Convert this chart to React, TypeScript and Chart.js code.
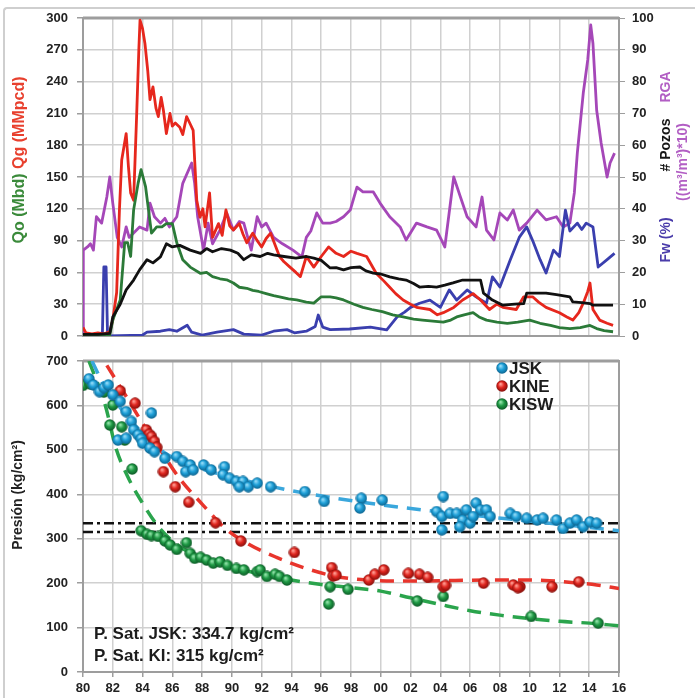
import React, { useEffect, useRef } from 'react';
import { Chart, registerables } from 'chart.js';

Chart.register(...registerables);

type Pt = [number, number];

const FONT = '"Liberation Sans", Arial, Helvetica, sans-serif';

// ---- x axis (years) ----
const yearLabels = ['80', '82', '84', '86', '88', '90', '92', '94', '96', '98', '00', '02', '04', '06', '08', '10', '12', '14', '16'];

// ---- upper panel: production history ----
// Qg (MMpcd), left axis
const qgSeries: Pt[] = [
  [1980.0, 8], [1980.2, 3], [1980.6, 2], [1981.0, 3], [1981.4, 2], [1981.8, 4], [1982.0, 15], [1982.26, 41],
  [1982.45, 120], [1982.6, 166], [1982.9, 191], [1983.05, 160], [1983.2, 135], [1983.4, 128], [1983.6, 207],
  [1983.75, 270], [1983.83, 298], [1984.0, 290], [1984.16, 276], [1984.35, 250], [1984.5, 223], [1984.7, 235],
  [1984.9, 215], [1985.06, 207], [1985.25, 225], [1985.4, 213], [1985.6, 191], [1985.84, 210], [1986.0, 198],
  [1986.2, 201], [1986.5, 197], [1986.7, 190], [1986.96, 207], [1987.2, 200], [1987.4, 194], [1987.5, 166],
  [1987.64, 128], [1987.86, 112], [1988.05, 120], [1988.2, 103], [1988.5, 135], [1988.7, 93], [1989.1, 106],
  [1989.35, 95], [1989.6, 119], [1989.85, 104], [1990.1, 100], [1990.5, 106], [1990.75, 96], [1991.0, 88],
  [1991.4, 97], [1991.7, 90], [1992.0, 84], [1992.3, 92], [1992.6, 97], [1993.2, 75], [1993.5, 70], [1993.9, 65],
  [1994.3, 60], [1994.6, 56], [1995.0, 75], [1995.5, 65], [1996.0, 75], [1996.5, 84], [1997.0, 78], [1997.5, 75],
  [1998.0, 80], [1998.4, 78], [1999.05, 75], [1999.7, 59], [2000.2, 52], [2000.6, 46], [2001.0, 40], [2001.5, 34],
  [2002.0, 30], [2002.4, 27], [2003.3, 25], [2003.8, 20], [2004.2, 22], [2004.9, 27], [2005.5, 34], [2006.2, 40],
  [2006.7, 34], [2007.3, 25], [2007.8, 30], [2008.2, 27], [2009.1, 25], [2009.6, 37], [2010.2, 37], [2010.6, 32],
  [2011.1, 27], [2012.0, 22], [2012.5, 18], [2012.9, 15], [2013.3, 22], [2013.6, 31], [2013.9, 42], [2014.05, 50],
  [2014.25, 25], [2014.7, 15], [2015.2, 12], [2015.6, 10],
];

// Qo (Mbd), left axis
const qoSeries: Pt[] = [
  [1980.0, 0], [1981.8, 1], [1982.0, 15], [1982.5, 34], [1982.8, 88], [1983.0, 88], [1983.2, 75], [1983.4, 119],
  [1983.7, 144], [1983.9, 157], [1984.2, 141], [1984.4, 119], [1984.6, 97], [1984.95, 103], [1985.3, 103],
  [1985.6, 106], [1986.0, 106], [1986.3, 88], [1986.7, 72], [1987.2, 65], [1987.9, 59], [1988.3, 60], [1988.7, 56],
  [1989.2, 54], [1989.65, 53], [1990.1, 50], [1990.5, 46], [1991.0, 45], [1991.4, 43], [1991.8, 42], [1992.3, 40],
  [1992.8, 38], [1993.2, 37], [1993.8, 35], [1994.35, 34], [1995.0, 32], [1995.5, 31], [1996.0, 37], [1996.6, 37],
  [1997.0, 36], [1997.5, 34], [1998.2, 30], [1998.8, 27], [1999.4, 25], [2000.1, 23], [2000.8, 20], [2001.5, 18],
  [2002.2, 16], [2002.8, 15], [2003.5, 14], [2004.2, 13], [2004.7, 15], [2005.1, 18], [2005.6, 20], [2006.2, 22],
  [2006.6, 18], [2007.1, 15], [2007.8, 13], [2008.5, 12], [2009.2, 13], [2010.0, 15], [2010.7, 12], [2011.4, 10],
  [2012.0, 8], [2012.7, 7], [2013.4, 8], [2014.05, 10], [2014.5, 7], [2015.0, 5], [2015.6, 4],
];

// # Pozos, right axis
const pozosSeries: Pt[] = [
  [1980.0, 0.5], [1981.0, 0.5], [1981.8, 0.8], [1982.0, 6], [1982.5, 10], [1982.9, 14.5], [1983.4, 17.6],
  [1983.8, 20.8], [1984.3, 24], [1984.7, 23], [1985.2, 24.9], [1985.6, 29], [1986.0, 28], [1986.5, 28.5],
  [1987.2, 27], [1987.9, 26], [1988.3, 27.5], [1988.7, 26.5], [1989.3, 27.5], [1989.9, 27], [1990.4, 26],
  [1990.8, 24], [1991.3, 25.5], [1991.9, 25], [1992.4, 26], [1992.8, 25.5], [1993.5, 25], [1994.3, 24.5],
  [1995.0, 25], [1995.5, 24.5], [1996.0, 23.8], [1996.6, 21.4], [1997.0, 21.5], [1997.5, 20.8], [1998.0, 21.5],
  [1998.6, 21.7], [1999.0, 20.5], [1999.5, 19.8], [2000.0, 19.5], [2000.6, 18.6], [2001.2, 18], [2001.7, 17.6],
  [2002.2, 16.5], [2002.6, 15.4], [2003.2, 15.6], [2003.75, 15.4], [2004.3, 16], [2004.85, 16.7], [2005.5, 17.6],
  [2006.7, 17.6], [2006.9, 13.5], [2007.5, 11.3], [2008.2, 9.7], [2009.0, 10], [2009.6, 10.2], [2009.8, 13.5],
  [2010.5, 13.5], [2011.1, 13.5], [2011.8, 13], [2012.7, 12.3], [2012.9, 10.7], [2013.5, 10.5], [2014.05, 10.2],
  [2014.25, 9.7], [2015.6, 9.7],
];

// Fw (%), right axis
const fwSeries: Pt[] = [
  [1980.0, 0], [1981.3, 0], [1981.4, 21.7], [1981.55, 21.7], [1981.65, 0], [1984.0, 0.3], [1984.3, 1.2],
  [1985.2, 1.5], [1985.8, 2], [1986.3, 1.5], [1987.0, 3.4], [1987.3, 1.2], [1988.0, 0.3], [1989.0, 1.2],
  [1990.1, 2], [1990.8, 0.6], [1992.0, 0.3], [1992.8, 1.5], [1993.7, 2], [1994.2, 1], [1995.0, 1.5], [1995.6, 3],
  [1995.8, 6.6], [1996.1, 2.8], [1996.6, 2], [1997.9, 2.2], [1999.3, 2.8], [2000.4, 1.9], [2001.1, 6],
  [2001.6, 7.5], [2002.0, 9], [2002.6, 10.3], [2003.3, 11.3], [2004.0, 9], [2004.6, 14.5], [2005.1, 11.3],
  [2005.8, 14.5], [2006.4, 12.3], [2007.1, 10.3], [2007.5, 18.6], [2008.0, 15.4], [2008.7, 24], [2009.3, 31],
  [2009.8, 34.3], [2010.2, 30], [2010.7, 24], [2011.1, 19.8], [2011.6, 27], [2012.0, 25], [2012.4, 39.6],
  [2012.7, 33], [2013.2, 35.5], [2013.5, 33.5], [2013.8, 35.5], [2014.25, 34.3], [2014.6, 21.7], [2015.2, 24],
  [2015.7, 26],
];

// RGA ((m3/m3)*10), right axis
const rgaSeries: Pt[] = [
  [1980.0, 0], [1980.02, 27], [1980.3, 28], [1980.5, 29], [1980.7, 27], [1980.9, 37.5], [1981.25, 35.5],
  [1981.6, 43.7], [1981.8, 50], [1982.0, 41.8], [1982.3, 31], [1982.6, 28], [1982.9, 34.3], [1983.1, 31],
  [1983.4, 32.4], [1983.8, 34.3], [1984.3, 33.3], [1984.5, 41.8], [1984.8, 37.5], [1985.2, 35.5], [1985.5, 37],
  [1985.8, 34.3], [1986.3, 37.5], [1986.7, 48], [1987.3, 54.4], [1987.5, 48], [1987.7, 37.5], [1988.1, 27],
  [1988.4, 35.5], [1988.7, 29], [1989.2, 33.3], [1989.65, 38.7], [1990.1, 33.3], [1990.5, 36], [1990.8, 35.5],
  [1991.3, 27], [1991.7, 37.5], [1992.0, 34.3], [1992.3, 35.5], [1992.8, 31], [1993.4, 29], [1994.1, 27],
  [1994.7, 24.9], [1995.0, 31], [1995.3, 33], [1995.7, 38.7], [1996.1, 35.5], [1996.6, 35.5], [1997.0, 36],
  [1997.5, 37.5], [1997.95, 39.6], [1998.4, 46.8], [1998.8, 45.3], [1999.5, 45.3], [1999.95, 41.8], [2000.6, 37.5],
  [2001.3, 34.3], [2001.7, 30.2], [2002.4, 35.5], [2003.1, 34.3], [2003.75, 33.3], [2004.3, 28], [2004.9, 50],
  [2005.35, 43.7], [2005.8, 37.5], [2006.4, 34.3], [2006.8, 43.7], [2007.1, 33.3], [2007.6, 30.2], [2008.0, 38.7],
  [2008.5, 36.5], [2008.9, 39.6], [2009.3, 33.3], [2009.8, 35.5], [2010.5, 39.6], [2011.1, 36.5], [2011.8, 37.5],
  [2012.25, 34.3], [2012.7, 35.5], [2013.0, 45], [2013.2, 57.5], [2013.6, 76.4], [2013.9, 86.8], [2014.1, 97.8],
  [2014.25, 92], [2014.5, 71], [2014.8, 60.7], [2015.2, 50], [2015.4, 54.4], [2015.7, 57.5],
];

// ---- lower panel: reservoir pressure (kg/cm2) ----
const jskPressure: Pt[] = [
  [1980.4, 660], [1980.7, 646], [1981.1, 631], [1981.4, 640], [1981.7, 646], [1982.0, 624], [1982.5, 609],
  [1982.9, 586], [1983.25, 564], [1984.6, 583], [1982.35, 522], [1982.9, 526], [1983.4, 545], [1983.7, 534],
  [1983.9, 525], [1984.0, 515], [1984.5, 504], [1984.8, 496], [1985.5, 481], [1986.3, 485], [1986.7, 474],
  [1987.2, 466], [1986.9, 451], [1987.4, 455], [1988.1, 466], [1988.6, 455], [1989.5, 462], [1989.4, 444],
  [1989.85, 436], [1990.3, 429], [1990.75, 429], [1991.1, 417], [1990.5, 417], [1991.7, 425], [1992.6, 417],
  [1994.9, 406], [1996.2, 384], [1998.7, 391], [1998.6, 369], [2000.1, 387], [2003.75, 361], [2004.2, 395],
  [2004.1, 350], [2004.1, 320], [2004.65, 357], [2005.1, 357], [2005.5, 342], [2006.0, 335], [2005.75, 365],
  [2006.4, 380], [2006.7, 365], [2007.1, 365], [2007.35, 350], [2006.2, 350], [2005.3, 327], [2008.7, 357],
  [2009.1, 350], [2009.8, 346], [2010.5, 342], [2010.9, 346], [2011.8, 342], [2012.25, 323], [2012.7, 335],
  [2013.15, 342], [2013.6, 327], [2014.05, 338], [2014.5, 335],
];

const kinePressure: Pt[] = [
  [1982.5, 633], [1983.5, 605], [1984.25, 545], [1984.45, 535], [1984.6, 530], [1984.8, 519], [1984.95, 506],
  [1985.4, 451], [1986.2, 417], [1987.1, 382], [1988.9, 336], [1990.6, 295], [1994.2, 269], [1996.7, 235],
  [1996.8, 216], [1997.0, 218], [1999.2, 207], [1999.6, 220], [2000.2, 230], [2001.85, 222], [2002.6, 220],
  [2003.15, 213], [2004.2, 192], [2004.35, 195], [2006.9, 200], [2008.9, 196], [2009.35, 192], [2009.2, 190],
  [2011.5, 192], [2013.3, 203],
];

const kiswPressure: Pt[] = [
  [1980.0, 645], [1980.5, 648], [1981.4, 630], [1982.0, 601], [1981.8, 556], [1982.6, 552], [1982.8, 522],
  [1983.3, 457], [1983.9, 318], [1984.3, 310], [1984.6, 307], [1985.05, 305], [1985.5, 295], [1985.85, 286],
  [1986.3, 276], [1986.95, 291], [1987.2, 267], [1987.5, 256], [1987.9, 258], [1988.3, 252], [1988.75, 245],
  [1989.2, 248], [1989.7, 240], [1990.3, 233], [1990.8, 230], [1991.7, 226], [1991.9, 230], [1992.35, 215],
  [1992.9, 220], [1993.2, 215], [1993.7, 207], [1996.6, 192], [1996.5, 153], [1997.8, 186], [2002.45, 160],
  [2004.2, 170], [2010.1, 125], [2014.6, 110],
];

// fitted decline trends
const jskTrend: Pt[] = [
  [1980.6, 700], [1981.5, 640], [1982.5, 595], [1983.5, 555], [1984.5, 520], [1985.5, 493], [1987, 468],
  [1989, 447], [1991, 430], [1993, 415], [1995, 402], [1997, 391], [1999, 381], [2001, 372], [2003, 364],
  [2005, 357], [2007, 350], [2009, 343], [2011, 336], [2013, 329], [2016, 318],
];
const kineTrend: Pt[] = [
  [1981.6, 690], [1983, 615], [1984, 560], [1985, 510], [1986.5, 435], [1988, 378], [1989.5, 325], [1991, 290],
  [1993, 258], [1995, 233], [1997, 215], [1999, 207], [2001, 205], [2003, 205], [2005, 206], [2007, 207],
  [2009, 207], [2011, 206], [2013, 201], [2014.5, 196], [2016, 188],
];
const kiswTrend: Pt[] = [
  [1980.4, 700], [1981.5, 600], [1982.2, 505], [1983, 440], [1984, 380], [1985, 330], [1986, 295], [1987, 272],
  [1988.5, 252], [1990, 236], [1992, 220], [1994, 207], [1996, 197], [1998, 190], [2000, 182], [2002, 167],
  [2004, 152], [2006, 138], [2008, 128], [2010, 120], [2012, 114], [2014, 110], [2016, 104],
];

// saturation pressures
const psatJsk = 334.7;
const psatKi = 315;

// colours
const C_QG = '#e6271d';
const C_QO = '#2b7a38';
const C_POZ = '#111111';
const C_FW = '#3a3fae';
const C_RGA = '#a547b8';
const C_JSK = '#1ea0d8';
const C_KINE = '#e0261f';
const C_KISW = '#1f9a45';
const GRID = '#d0d0d0';
const FRAME = '#9d9d9d';
const TICK_TXT = '#222222';

const toXY = (s: Pt[]) => s.map(([x, y]) => ({ x, y }));

function sphere(base: string, light: string, dark: string, d = 12): HTMLCanvasElement {
  const c = document.createElement('canvas');
  c.width = d;
  c.height = d;
  const g = c.getContext('2d') as CanvasRenderingContext2D;
  const r = d / 2;
  const grad = g.createRadialGradient(r * 0.75, r * 0.65, r * 0.1, r, r, r);
  grad.addColorStop(0, light);
  grad.addColorStop(0.45, base);
  grad.addColorStop(1, dark);
  g.fillStyle = grad;
  g.beginPath();
  g.arc(r, r, r - 0.3, 0, Math.PI * 2);
  g.fill();
  return c;
}

const plotFrame = {
  id: 'plotFrame',
  beforeDatasetsDraw(chart: any) {
    const { ctx, chartArea: a } = chart;
    ctx.save();
    ctx.strokeStyle = FRAME;
    ctx.lineWidth = 2;
    ctx.strokeRect(a.left, a.top, a.right - a.left, a.bottom - a.top);
    ctx.lineWidth = 3;
    ctx.beginPath();
    ctx.moveTo(a.left, a.top);
    ctx.lineTo(a.right, a.top);
    ctx.stroke();
    ctx.restore();
  },
};

function vText(ctx: CanvasRenderingContext2D, parts: [string, string][], cx: number, cy: number, font: string) {
  ctx.save();
  ctx.font = font;
  ctx.translate(cx, cy);
  ctx.rotate(-Math.PI / 2);
  ctx.textBaseline = 'middle';
  ctx.textAlign = 'left';
  const widths = parts.map(([t]) => ctx.measureText(t).width);
  let x = -widths.reduce((s, w) => s + w, 0) / 2;
  parts.forEach(([t, col], i) => {
    ctx.fillStyle = col;
    ctx.fillText(t, x, 0);
    x += widths[i];
  });
  ctx.restore();
}

const upperTitles = {
  id: 'upperTitles',
  afterDraw(chart: any) {
    const ctx = chart.ctx as CanvasRenderingContext2D;
    vText(ctx, [['Qo (Mbd) ', '#3a8a3a'], ['Qg (MMpcd)', '#e8402e']], 20, 160, `bold 16px ${FONT}`);
    const f = `bold 14px ${FONT}`;
    vText(ctx, [['RGA', '#b25ec4']], 666, 87, f);
    vText(ctx, [['# Pozos', '#161616']], 666, 145, f);
    vText(ctx, [['Fw (%)', '#4a3caa']], 666, 240, f);
    vText(ctx, [['((m³/m³)*10)', '#b25ec4']], 683, 162, f);
  },
};

const legendItems: [string, string][] = [['JSK', 'jsk'], ['KINE', 'kine'], ['KISW', 'kisw']];

function makeLowerNotes(balls: Record<string, HTMLCanvasElement>) {
  return {
    id: 'lowerNotes',
    afterDraw(chart: any) {
      const ctx = chart.ctx as CanvasRenderingContext2D;
      vText(ctx, [['Presión (kg/cm²)', '#222']], 18, 495, `bold 14px ${FONT}`);
      ctx.save();
      ctx.fillStyle = '#1c1c1c';
      ctx.textBaseline = 'middle';
      ctx.textAlign = 'left';
      ctx.font = `bold 17px ${FONT}`;
      ctx.fillText(`P. Sat. JSK: ${psatJsk} kg/cm²`, 94, 634);
      ctx.fillText(`P. Sat. KI: ${psatKi} kg/cm²`, 94, 656);
      legendItems.forEach(([name, key], i) => {
        const y = 368 + i * 18;
        const b = balls[key];
        ctx.drawImage(b, 502 - b.width / 2, y - b.height / 2);
        ctx.fillStyle = '#1c1c1c';
        ctx.fillText(name, 509, y + 1);
      });
      ctx.restore();
    },
  };
}

const tickFont = { family: FONT, size: 13, weight: 'bold' as const };

export default function App() {
  const topRef = useRef<HTMLCanvasElement>(null);
  const botRef = useRef<HTMLCanvasElement>(null);

  useEffect(() => {
    const balls = {
      jsk: sphere(C_JSK, '#8fd8f6', '#0b5f8a'),
      kine: sphere(C_KINE, '#ff9a90', '#7e0c08'),
      kisw: sphere(C_KISW, '#8ee0a6', '#0b5424'),
    };

    const line = (data: Pt[], color: string, axis: string, label: string) => ({
      label,
      data: toXY(data),
      yAxisID: axis,
      borderColor: color,
      borderWidth: 2.8,
      pointRadius: 0,
      borderJoinStyle: 'round' as const,
      tension: 0,
    });

    const top = new Chart(topRef.current as HTMLCanvasElement, {
      type: 'line',
      data: {
        datasets: [
          line(pozosSeries, C_POZ, 'yR', '# Pozos'),
          line(qoSeries, C_QO, 'yL', 'Qo'),
          line(qgSeries, C_QG, 'yL', 'Qg'),
          line(fwSeries, C_FW, 'yR', 'Fw'),
          line(rgaSeries, C_RGA, 'yR', 'RGA'),
        ] as any,
      },
      options: {
        responsive: false,
        animation: false,
        devicePixelRatio: 1,
        layout: { padding: { top: 18, bottom: 698 - 336, left: 0, right: 0 } },
        plugins: { legend: { display: false }, tooltip: { enabled: false } },
        scales: {
          x: {
            type: 'linear',
            min: 1980,
            max: 2016,
            ticks: { display: false, stepSize: 2 },
            grid: { color: GRID, lineWidth: 1.5, drawTicks: false },
            border: { display: false },
            afterFit: (s: any) => { s.height = 0; },
          },
          yL: {
            position: 'left',
            min: 0,
            max: 300,
            ticks: { stepSize: 30, color: TICK_TXT, font: tickFont, padding: 9 },
            grid: { color: GRID, lineWidth: 1.5, tickLength: 6, tickColor: FRAME },
            border: { display: false },
            afterFit: (s: any) => { s.width = 83; },
          },
          yR: {
            position: 'right',
            min: 0,
            max: 100,
            ticks: { stepSize: 10, color: TICK_TXT, font: tickFont, padding: 7 },
            grid: { drawOnChartArea: false, tickLength: 6, tickColor: FRAME },
            border: { display: false },
            afterFit: (s: any) => { s.width = 695 - 619; },
          },
        },
      } as any,
      plugins: [plotFrame, upperTitles],
    });

    const trend = (data: Pt[], color: string, label: string) => ({
      type: 'line',
      label,
      data: toXY(data),
      borderColor: color,
      borderWidth: 3.5,
      borderDash: [14, 9],
      pointRadius: 0,
      showLine: true,
      cubicInterpolationMode: 'monotone',
    });
    const satLine = (p: number, label: string) => ({
      type: 'line',
      label,
      data: [{ x: 1980, y: p }, { x: 2016, y: p }],
      borderColor: '#111',
      borderWidth: 2.5,
      borderDash: [10, 4, 3, 4],
      pointRadius: 0,
      showLine: true,
    });
    const pts = (data: Pt[], img: HTMLCanvasElement, label: string) => ({
      type: 'scatter',
      label,
      data: toXY(data),
      pointStyle: img,
      pointRadius: 6,
      showLine: false,
    });

    const bot = new Chart(botRef.current as HTMLCanvasElement, {
      type: 'scatter',
      data: {
        datasets: [
          pts(jskPressure, balls.jsk, 'JSK'),
          pts(kinePressure, balls.kine, 'KINE'),
          pts(kiswPressure, balls.kisw, 'KISW'),
          trend(jskTrend, '#3aa7dc', 'JSK trend'),
          trend(kineTrend, '#e8352c', 'KINE trend'),
          trend(kiswTrend, '#2aa44c', 'KISW trend'),
          satLine(psatJsk, 'P. Sat. JSK'),
          satLine(psatKi, 'P. Sat. KI'),
        ] as any,
      },
      options: {
        responsive: false,
        animation: false,
        devicePixelRatio: 1,
        layout: { padding: { top: 361, bottom: 0, left: 0, right: 695 - 619 } },
        plugins: { legend: { display: false }, tooltip: { enabled: false } },
        scales: {
          x: {
            type: 'linear',
            min: 1980,
            max: 2016,
            ticks: {
              stepSize: 2,
              autoSkip: false,
              maxRotation: 0,
              color: TICK_TXT,
              font: tickFont,
              padding: 4,
              callback: (_v: any, i: number) => yearLabels[i],
            },
            grid: { color: GRID, lineWidth: 1.5, tickLength: 5, tickColor: FRAME },
            border: { display: false },
            afterFit: (s: any) => { s.height = 26; },
          },
          y: {
            min: 0,
            max: 700,
            ticks: { stepSize: 100, color: TICK_TXT, font: tickFont, padding: 9 },
            grid: { color: GRID, lineWidth: 1.5, tickLength: 6, tickColor: FRAME },
            border: { display: false },
            afterFit: (s: any) => { s.width = 83; },
          },
        },
      } as any,
      plugins: [plotFrame, makeLowerNotes(balls)],
    });

    return () => {
      top.destroy();
      bot.destroy();
    };
  }, []);

  const layer: React.CSSProperties = { position: 'absolute', left: 0, top: 0, width: 695, height: 698 };

  return (
    <div style={{ position: 'absolute', left: 0, top: 0, width: 695, height: 698, overflow: 'hidden', background: '#fff' }}>
      <div
        style={{
          position: 'absolute',
          left: 3,
          top: 7,
          width: 692,
          height: 691,
          borderLeft: '2px solid #cfcfcf',
          borderTop: '2px solid #cfcfcf',
          borderTopLeftRadius: 4,
          boxSizing: 'border-box',
        }}
      />
      <canvas ref={topRef} width={695} height={698} style={layer} />
      <canvas ref={botRef} width={695} height={698} style={layer} />
    </div>
  );
}
